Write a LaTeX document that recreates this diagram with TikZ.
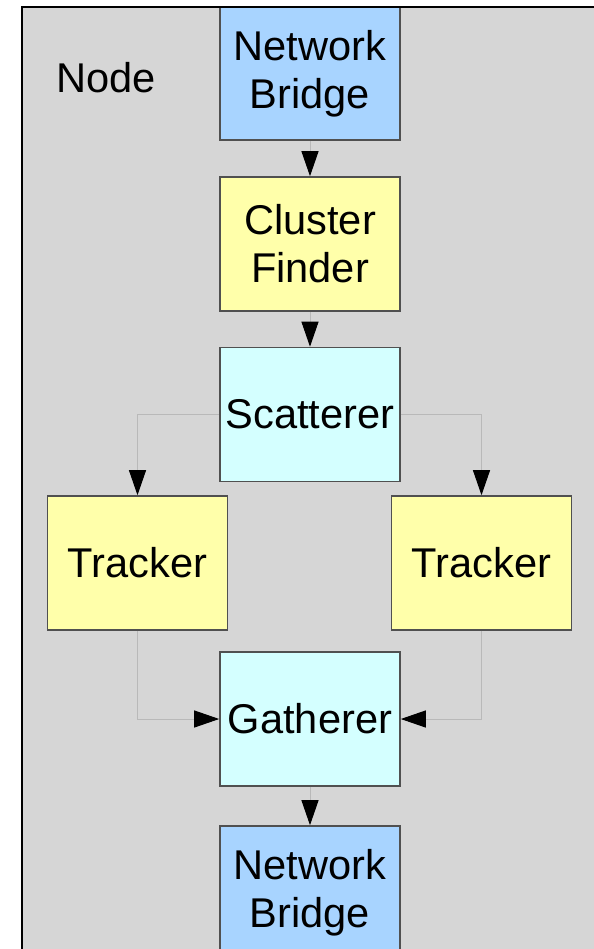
\documentclass[tikz,border=0pt]{standalone}
\usepackage{fontspec}
\setmainfont{Liberation Sans}
\usetikzlibrary{arrows.meta}
\definecolor{panelgray}{RGB}{214,214,214}
\definecolor{bridgeblue}{RGB}{168,212,255}
\definecolor{stageyellow}{RGB}{255,255,170}
\definecolor{splitcyan}{RGB}{212,255,255}
\definecolor{boxedge}{RGB}{80,80,80}
\definecolor{wiregray}{RGB}{185,185,185}
\tikzset{
  stagebox/.style={draw=boxedge, line width=0.8pt, inner sep=0pt, align=center,
    minimum width=90pt, minimum height=67pt,
    font=\fontsize{20.8pt}{24pt}\selectfont},
  bridge/.style={stagebox, fill=bridgeblue},
  finder/.style={stagebox, fill=stageyellow},
  tracker/.style={stagebox, fill=stageyellow},
  splitter/.style={stagebox, fill=splitcyan},
  wire/.style={draw=wiregray, line width=0.5pt,
    -{Triangle[length=12.5pt,width=8.5pt,color=black]}},
}
\begin{document}
\begin{tikzpicture}[x=0.5pt,y=-0.5pt]
  \useasboundingbox (0,0) rectangle (594,949);
  % enclosing panel
  \fill[panelgray] (22,7) rectangle (594,949);
  \begin{scope}
    \clip (22,7) rectangle (594,949);
    \node[bridge, minimum height=66.5pt] (nbtop) at (310,73.5) {Network\\Bridge};
    \node[finder] (finder) at (310,244) {Cluster\\Finder};
    \node[splitter] (scatter) at (310,414.5) {Scatterer};
    \node[tracker] (trackL) at (137.5,563) {Tracker};
    \node[tracker] (trackR) at (481.5,563) {Tracker};
    \node[splitter] (gather) at (310,719) {Gatherer};
    \node[bridge] (nbbot) at (310,893) {Network\\Bridge};
  \end{scope}
  \draw[black, line width=0.9pt] (22,949) -- (22,7) -- (594,7);
  \node[font=\fontsize{20.8pt}{24pt}\selectfont] (caption) at (106,78) {Node};
  % data flow
  \draw[wire] (nbtop) -- (finder);
  \draw[wire] (finder) -- (scatter);
  \draw[wire] (scatter.west) -| (trackL.north);
  \draw[wire] (scatter.east) -| (trackR.north);
  \draw[wire] (trackL.south) |- (gather.west);
  \draw[wire] (trackR.south) |- (gather.east);
  \draw[wire] (gather) -- (nbbot);
\end{tikzpicture}
\end{document}
